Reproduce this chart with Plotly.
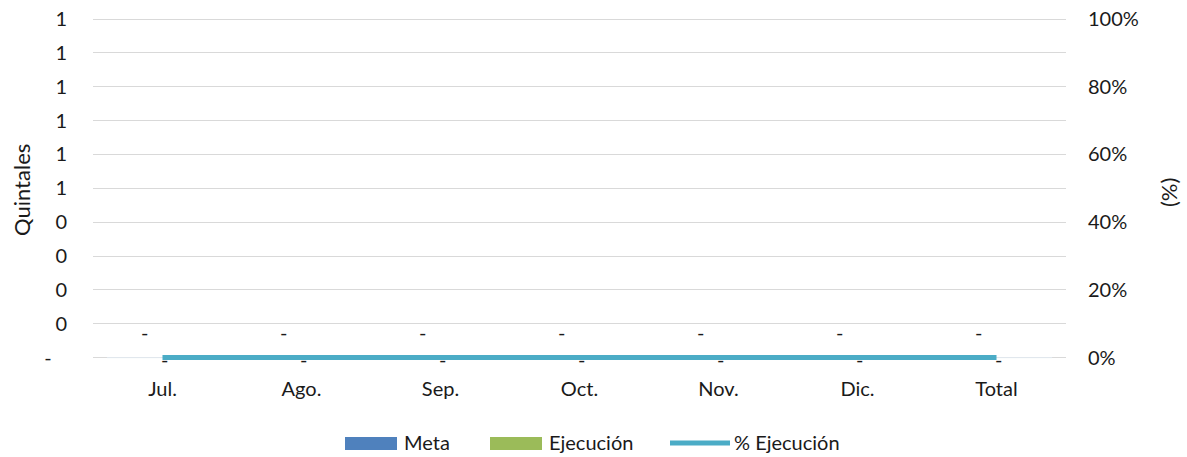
import plotly.graph_objects as go

categories = ["Jul.", "Ago.", "Sep.", "Oct.", "Nov.", "Dic.", "Total"]
meta = [0, 0, 0, 0, 0, 0, 0]
ejecucion = [0, 0, 0, 0, 0, 0, 0]
pct_ejecucion = [0, 0, 0, 0, 0, 0, 0]

left_tick_vals = [0, 0.1, 0.2, 0.3, 0.4, 0.5, 0.6, 0.7, 0.8, 0.9, 1.0]
left_tick_text = ["-\u00a0\u00a0\u00a0", "0", "0", "0", "0", "1", "1", "1", "1", "1", "1"]
right_tick_vals = [0, 0.2, 0.4, 0.6, 0.8, 1.0]

C_META = "#4F81BD"
C_EJEC = "#9BBB59"
C_PCT = "#4BACC6"
FONT = "Lato"
TXT = "#1a1a1a"
FS = 20

# figure geometry (body margin removed by post_script)
FIG_W, FIG_H = 1187, 457
ML, MR, MT, MB = 93, 121, 17, 96
PLOT_L = ML
PLOT_R = FIG_W - MR
PLOT_T = MT
PLOT_B = FIG_H - MB


def px_x(px):
    return (px - PLOT_L) / (PLOT_R - PLOT_L)


def px_y(py):
    return (PLOT_B - py) / (PLOT_B - PLOT_T)


def fmt(v):
    return "-" if v == 0 else f"{v:,.0f}"


fig = go.Figure()
fig.add_trace(go.Bar(x=categories, y=meta, name="Meta", marker_color=C_META, showlegend=False))
fig.add_trace(go.Bar(x=categories, y=ejecucion, name="Ejecución", marker_color=C_EJEC, showlegend=False))
fig.add_trace(go.Scatter(x=categories, y=pct_ejecucion, name="% Ejecución", mode="lines",
                         line=dict(color=C_PCT, width=5), yaxis="y2", showlegend=False,
                         hoverinfo="skip"))

annotations = []
for i, v in enumerate(meta):
    annotations.append(dict(x=i - 0.13, y=v, xref="x", yref="y", text=fmt(v), showarrow=False,
                            yshift=26, font=dict(family=FONT, size=FS, color=TXT)))
for i, v in enumerate(pct_ejecucion):
    annotations.append(dict(x=i + 0.015, y=v, xref="x", yref="y2", text=fmt(v), showarrow=False,
                            yshift=-1, font=dict(family=FONT, size=FS, color=TXT)))

# axis titles
annotations.append(dict(x=px_x(21), y=px_y(190), xref="paper", yref="paper", text="Quintales",
                        textangle=-90, showarrow=False, xanchor="center", yanchor="middle",
                        font=dict(family=FONT, size=22, color=TXT)))
annotations.append(dict(x=px_x(1168), y=px_y(193), xref="paper", yref="paper", text="(%)",
                        textangle=-90, showarrow=False, xanchor="center", yanchor="middle",
                        font=dict(family=FONT, size=22, color=TXT)))

# manual legend
shapes = [
    dict(type="rect", xref="paper", yref="paper", x0=px_x(345), x1=px_x(397), y0=px_y(450), y1=px_y(437),
         fillcolor=C_META, line=dict(width=0)),
    dict(type="rect", xref="paper", yref="paper", x0=px_x(490), x1=px_x(542), y0=px_y(450), y1=px_y(437),
         fillcolor=C_EJEC, line=dict(width=0)),
    dict(type="line", xref="paper", yref="paper", x0=px_x(670), x1=px_x(730), y0=px_y(443), y1=px_y(443),
         line=dict(color=C_PCT, width=5)),
]
for label, px in [("Meta", 402), ("Ejecución", 547), ("% Ejecución", 732)]:
    annotations.append(dict(x=px_x(px), y=px_y(442), xref="paper", yref="paper", text=label,
                            showarrow=False, xanchor="left", yanchor="middle",
                            font=dict(family=FONT, size=FS, color=TXT)))

fig.update_layout(
    width=FIG_W, height=FIG_H,
    margin=dict(l=ML, r=MR, t=MT, b=MB, autoexpand=False),
    paper_bgcolor="white", plot_bgcolor="white",
    font=dict(family=FONT, size=FS, color=TXT),
    barmode="group",
    showlegend=False,
    hovermode=False,
    xaxis=dict(showgrid=False, showline=False, ticks="", ticklabelstandoff=14, automargin=False,
               tickfont=dict(size=FS, color=TXT)),
    yaxis=dict(range=[-0.01, 1.006], tickvals=left_tick_vals, ticktext=left_tick_text, automargin=False,
               showgrid=True, gridcolor="#D9D9D9", gridwidth=1, zeroline=True, zerolinecolor="#D9D9D9",
               zerolinewidth=1, showline=False, ticks="", ticklabelstandoff=25,
               ticklabeloverflow="allow", tickfont=dict(size=FS, color=TXT)),
    yaxis2=dict(range=[-0.01, 1.006], tickvals=right_tick_vals, tickformat=".0%", overlaying="y",
                side="right", showgrid=False, zeroline=False, showline=False, ticks="",
                ticklabelstandoff=21, automargin=False, ticklabeloverflow="allow",
                tickfont=dict(size=FS, color=TXT)),
    annotations=annotations,
    shapes=shapes,
)

fig.write_html("out.html", config={"displayModeBar": False, "staticPlot": True},
               post_script="document.body.style.margin='0';")
